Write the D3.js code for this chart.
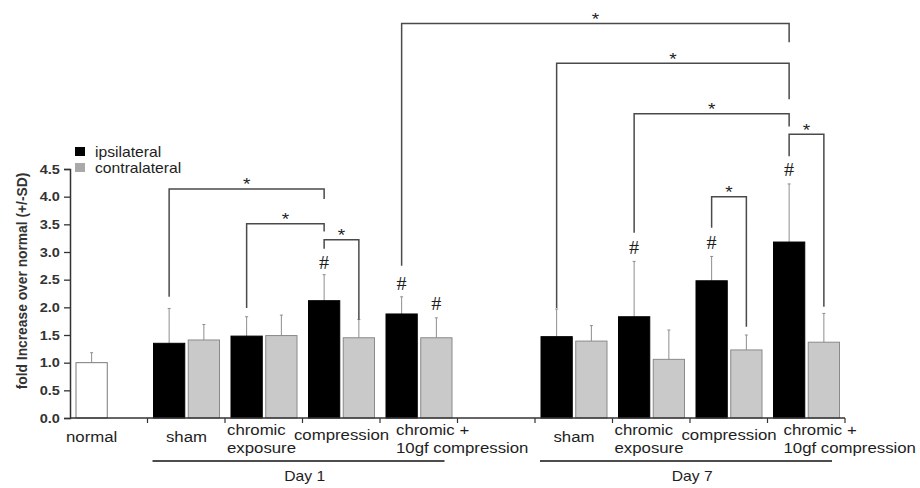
<!DOCTYPE html>
<html>
<head>
<meta charset="utf-8">
<script src="https://cdn.jsdelivr.net/npm/d3@7/dist/d3.min.js"></script>
<style>
  body { margin: 0; background: #fff; }
  svg { display: block; font-family: "Liberation Sans", Arial, sans-serif; }
</style>
</head>
<body>
<svg id="chart" width="920" height="488"></svg>
<script>
// --- Data ---
const groups = ["normal", "d1_sham", "d1_chromic", "d1_comp", "d1_chrcomp", "gap",
                "d7_sham", "d7_chromic", "d7_comp", "d7_chrcomp"];
const groupLabels = [["normal"], ["sham"], ["chromic", "exposure"], ["compression"], ["chromic +", "10gf compression"], [],
                     ["sham"], ["chromic", "exposure"], ["compression"], ["chromic +", "10gf compression"]];
const series = ["ipsilateral", "contralateral"];

const normalMean = 1.0;
const normalSD = 0.18;
const ipsiMean   = [null, 1.35, 1.48, 2.12, 1.88, null, 1.47, 1.83, 2.48, 3.18];
const ipsiSD     = [null, 0.63, 0.35, 0.47, 0.31, null, 0.50, 1.00, 0.44, 1.05];
const contraMean = [null, 1.41, 1.49, 1.45, 1.45, null, 1.39, 1.06, 1.23, 1.37];
const contraSD   = [null, 0.28, 0.37, 0.33, 0.36, null, 0.28, 0.53, 0.27, 0.52];

const days = [
  { label: "Day 1", first: "d1_sham", last: "d1_chrcomp" },
  { label: "Day 7", first: "d7_sham", last: "d7_chrcomp" }
];

const yTicks = [0, 0.5, 1, 1.5, 2, 2.5, 3, 3.5, 4, 4.5];

// significance brackets (y in data units: top line, and the two drop ends)
const brackets = [
  { a: ["d1_sham", "ipsilateral"],    b: ["d1_comp", "ipsilateral"],      top: 4.14, endA: 2.19, endB: 3.96 },
  { a: ["d1_chromic", "ipsilateral"], b: ["d1_comp", "ipsilateral"],      top: 3.51, endA: 1.99, endB: 3.37 },
  { a: ["d1_comp", "ipsilateral"],    b: ["d1_comp", "contralateral"],    top: 3.22, endA: 3.06, endB: 1.78 },
  { a: ["d1_chrcomp", "ipsilateral"], b: ["d7_chrcomp", "ipsilateral"],   top: 7.13, endA: 2.75, endB: 6.79 },
  { a: ["d7_sham", "ipsilateral"],    b: ["d7_chrcomp", "ipsilateral"],   top: 6.41, endA: 1.99, endB: 5.76 },
  { a: ["d7_chromic", "ipsilateral"], b: ["d7_chrcomp", "ipsilateral"],   top: 5.50, endA: 3.35, endB: 5.27 },
  { a: ["d7_chrcomp", "ipsilateral"], b: ["d7_chrcomp", "contralateral"], top: 5.13, endA: 4.73, endB: 2.01 },
  { a: ["d7_comp", "ipsilateral"],    b: ["d7_comp", "contralateral"],    top: 4.00, endA: 3.44, endB: 1.65 }
];

// "#" marks: group, series, y (centre)
const hashMarks = [
  ["d1_comp", "ipsilateral", 2.81],
  ["d1_chrcomp", "ipsilateral", 2.42],
  ["d1_chrcomp", "contralateral", 2.06],
  ["d7_chromic", "ipsilateral", 3.07],
  ["d7_comp", "ipsilateral", 3.16],
  ["d7_chrcomp", "ipsilateral", 4.49]
];

// --- Layout ---
const SX = 1.12; // text in the source is slightly wide
const plotLeft = 70, plotRight = 845, plotBottom = 418, plotTop = 169;
const svg = d3.select("#chart");

const x0 = d3.scaleBand().domain(groups).range([plotLeft, plotRight]).paddingInner(0).paddingOuter(0);
const x1 = d3.scaleBand().domain(series).range([6, 72]).paddingInner(0.1);
const y = d3.scaleLinear().domain([0, 4.5]).range([plotBottom, plotTop]);

const cx = (g, s) => x0(g) + x1(s) + x1.bandwidth() / 2;

function txt(parent, x, yy, str, size, anchor, weight, family) {
  return parent.append("text")
    .attr("transform", `translate(${x},${yy}) scale(${SX},1)`)
    .attr("text-anchor", anchor || "start")
    .attr("font-size", size)
    .attr("font-weight", weight || "normal")
    .attr("font-family", family || null)
    .attr("fill", "#1e1e1e")
    .text(str);
}

// --- Bars ---
const bars = [];
groups.forEach((g, i) => {
  if (ipsiMean[i] != null) bars.push({ g, s: "ipsilateral", v: ipsiMean[i], sd: ipsiSD[i] });
  if (contraMean[i] != null) bars.push({ g, s: "contralateral", v: contraMean[i], sd: contraSD[i] });
});
bars.push({ g: "normal", s: "ipsilateral", v: normalMean, sd: normalSD, normal: true });

// error bars first (thin grey, upward only)
const err = svg.append("g").attr("stroke", "#8e8e8e").attr("stroke-width", 1);
bars.forEach(d => {
  const xc = cx(d.g, d.s);
  err.append("line").attr("x1", xc).attr("x2", xc).attr("y1", y(d.v)).attr("y2", y(d.v + d.sd));
  err.append("line").attr("x1", xc - 1.5).attr("x2", xc + 1.5).attr("y1", y(d.v + d.sd)).attr("y2", y(d.v + d.sd));
});

svg.append("g").selectAll("rect")
  .data(bars)
  .enter()
  .append("rect")
  .attr("x", d => x0(d.g) + x1(d.s))
  .attr("y", d => y(d.v))
  .attr("width", x1.bandwidth())
  .attr("height", d => y(0) - y(d.v))
  .attr("fill", d => d.normal ? "#fff" : (d.s === "ipsilateral" ? "#000" : "#c9c9c9"))
  .attr("stroke", d => d.normal ? "#7a7a7a" : (d.s === "ipsilateral" ? "#000" : "#8a8a8a"))
  .attr("stroke-width", 1);

// --- Axes ---
const yAxis = svg.append("g")
  .attr("transform", `translate(${plotLeft},0)`)
  .call(d3.axisLeft(y).tickValues(yTicks).tickFormat(d3.format(".1f")).tickSize(6).tickPadding(3));
yAxis.select(".domain").attr("stroke", "#333").attr("stroke-width", 1.5);
yAxis.selectAll(".tick line").attr("stroke", "#333").attr("stroke-width", 1.3);
yAxis.selectAll(".tick text")
  .attr("font-size", 13).attr("font-weight", "bold").attr("fill", "#333")
  .attr("font-family", "Liberation Sans, Arial, sans-serif")
  .attr("transform", `scale(${SX},1)`);

const xAxisG = svg.append("g").attr("stroke", "#333");
xAxisG.append("line").attr("x1", plotLeft).attr("x2", plotRight).attr("y1", plotBottom).attr("y2", plotBottom).attr("stroke-width", 1.5);
groups.slice(1).concat(["end"]).forEach(g => {
  const xt = g === "end" ? plotRight : x0(g);
  xAxisG.append("line").attr("x1", xt).attr("x2", xt).attr("y1", plotBottom).attr("y2", plotBottom + 5).attr("stroke-width", 1.2);
});

// y title
svg.append("text")
  .attr("transform", `translate(27,281) rotate(-90)`)
  .attr("text-anchor", "middle")
  .attr("font-size", 13.8)
  .attr("font-weight", "bold")
  .attr("fill", "#333")
  .text("fold Increase over normal (+/-SD)");

// category labels
groups.forEach((g, i) => {
  const lines = groupLabels[i];
  if (!lines.length) return;
  const pairMid = (cx(g, "ipsilateral") + cx(g, "contralateral")) / 2;
  if (g === "normal") {
    txt(svg, cx(g, "ipsilateral"), 442, lines[0], 15, "middle");
  } else if (lines.length === 1) {
    txt(svg, pairMid, g === "d1_sham" || g === "d7_sham" ? 442 : 440, lines[0], 15, "middle");
  } else {
    const xs = lines[0] === "chromic" ? x0(g) + 2 : x0(g) + 16;
    txt(svg, xs, 435, lines[0], 15, "start");
    txt(svg, xs, 453, lines[1], 15, "start");
  }
});

// day lines
days.forEach(d => {
  const xa = x0(d.first) + 5, xb = x0(d.last) + x0.bandwidth() - 13;
  svg.append("line").attr("x1", xa).attr("x2", xb).attr("y1", 461).attr("y2", 461)
    .attr("stroke", "#111").attr("stroke-width", 1.5);
  const mid = (cx(d.first, "ipsilateral") + cx(d.first, "contralateral") +
               cx(d.last, "ipsilateral") + cx(d.last, "contralateral")) / 4;
  txt(svg, mid + 2, 481, d.label, 14, "middle");
});

// --- Brackets ---
const br = svg.append("g").attr("fill", "none").attr("stroke", "#4a4a4a").attr("stroke-width", 1.5);
brackets.forEach(b => {
  const xa = cx(b.a[0], b.a[1]), xb = cx(b.b[0], b.b[1]);
  br.append("path").attr("d",
    `M${xa},${y(b.endA)}V${y(b.top)}H${xb}V${y(b.endB)}`);
  txt(svg, (xa + xb) / 2, y(b.top) + 1.5, "*", 17, "middle");
});

hashMarks.forEach(h => {
  txt(svg, cx(h[0], h[1]), y(h[2]) + 6, "#", 18, "middle", "normal", "Liberation Serif, Times New Roman, serif");
});

// --- Legend ---
const legend = svg.append("g");
const legendY = [147, 163];
series.forEach((s, i) => {
  legend.append("rect").attr("x", 75).attr("y", legendY[i]).attr("width", 10).attr("height", 9)
    .attr("fill", i === 0 ? "#000" : "#a9a9a9");
  txt(legend, 95, legendY[i] + 10, s, 14, "start");
});
</script>
</body>
</html>
